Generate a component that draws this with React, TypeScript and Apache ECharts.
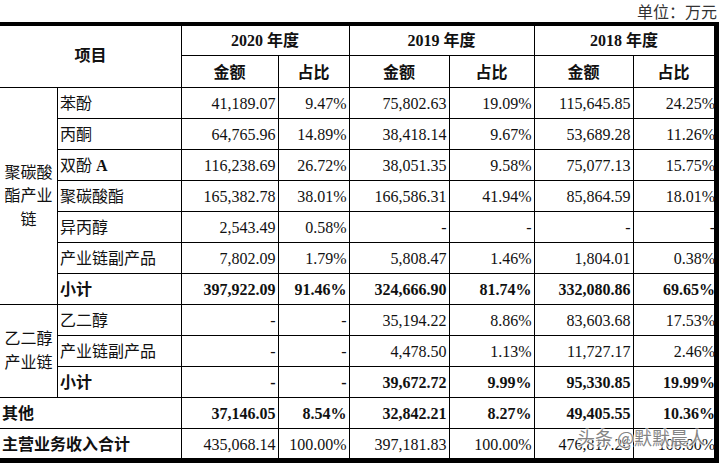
import React, { useEffect, useRef } from "react";
import * as echarts from "echarts";

const unitLabel = "单位：万元";
const headerItem = "项目";
const years = ["2020 年度", "2019 年度", "2018 年度"];
const subHeaders = ["金额", "占比"];

const rowLabels = [
  "苯酚",
  "丙酮",
  "双酚 A",
  "聚碳酸酯",
  "异丙醇",
  "产业链副产品",
  "小计",
  "乙二醇",
  "产业链副产品",
  "小计",
  "其他",
  "主营业务收入合计",
];

const groups = [
  { name: "聚碳酸\n酯产业\n链", from: 0, to: 6 },
  { name: "乙二醇\n产业链", from: 7, to: 9 },
];

const amt2020 = [41189.07, 64765.96, 116238.69, 165382.78, 2543.49, 7802.09, 397922.09, null, null, null, 37146.05, 435068.14];
const pct2020 = [9.47, 14.89, 26.72, 38.01, 0.58, 1.79, 91.46, null, null, null, 8.54, 100.0];
const amt2019 = [75802.63, 38418.14, 38051.35, 166586.31, null, 5808.47, 324666.9, 35194.22, 4478.5, 39672.72, 32842.21, 397181.83];
const pct2019 = [19.09, 9.67, 9.58, 41.94, null, 1.46, 81.74, 8.86, 1.13, 9.99, 8.27, 100.0];
const amt2018 = [115645.85, 53689.28, 75077.13, 85864.59, null, 1804.01, 332080.86, 83603.68, 11727.17, 95330.85, 49405.55, 476817.26];
const pct2018 = [24.25, 11.26, 15.75, 18.01, null, 0.38, 69.65, 17.53, 2.46, 19.99, 10.36, 100.0];

const boldValueRows = [6, 9, 10];
const boldLabelRows = [6, 9, 10, 11];
const fullWidthRows = [10, 11];
const watermark = "头条 @默默晨人";

const FONT = "'Liberation Serif', 'Times New Roman', 'Noto Sans CJK SC', serif";
const INK = "#111";

function fmtAmt(v: number | null) {
  if (v === null) return "-";
  return v.toLocaleString("en-US", { minimumFractionDigits: 2, maximumFractionDigits: 2 });
}
function fmtPct(v: number | null) {
  if (v === null) return "-";
  return v.toFixed(2) + "%";
}

function buildElements() {
  const els: any[] = [];
  const colX = [0, 57, 181, 278, 349, 449, 534, 633, 716];
  const top = 24;
  const headMid = 55;
  const headBot = 87;
  const rowH = 31;
  const nRows = rowLabels.length;
  const rowTop = (i: number) => headBot + i * rowH;
  const bottom = rowTop(nRows);
  const right = 714;

  const line = (x1: number, y1: number, x2: number, y2: number) =>
    els.push({
      type: "line",
      shape: { x1, y1, x2, y2 },
      style: { stroke: "#000", lineWidth: 1 },
      silent: true,
    });
  const text = (
    t: string,
    x: number,
    y: number,
    align: string,
    bold: boolean,
    size = 16,
    extra: any = {}
  ) =>
    els.push({
      type: "text",
      x,
      y,
      silent: true,
      style: {
        text: t,
        fill: INK,
        fontSize: size,
        fontFamily: FONT,
        fontWeight: bold ? "bold" : "normal",
        align,
        textAlign: align,
        verticalAlign: "middle",
        textVerticalAlign: "middle",
        ...extra,
      },
    });

  // background
  els.push({ type: "rect", shape: { x: 0, y: 0, width: 723, height: 463 }, style: { fill: "#fff" }, silent: true });

  // unit label
  text(unitLabel, 717, 12, "right", false, 16, { fill: "#333" });

  // horizontal lines
  line(colX[2], headMid + 0.5, right, headMid + 0.5);
  line(0, headBot + 0.5, right, headBot + 0.5);
  for (let i = 1; i <= nRows - 1; i++) {
    const y = Math.round(rowTop(i)) + 0.5;
    const inGroup = groups.some((g) => i > g.from && i <= g.to);
    line(inGroup ? colX[1] : 0, y, right, y);
  }
  // vertical lines
  line(colX[1] + 0.5, headBot, colX[1] + 0.5, rowTop(10));
  line(colX[2] + 0.5, top, colX[2] + 0.5, bottom);
  line(colX[4] + 0.5, top, colX[4] + 0.5, bottom);
  line(colX[6] + 0.5, top, colX[6] + 0.5, bottom);
  line(colX[3] + 0.5, headMid, colX[3] + 0.5, bottom);
  line(colX[5] + 0.5, headMid, colX[5] + 0.5, bottom);
  line(colX[7] + 0.5, headMid, colX[7] + 0.5, bottom);

  // thick borders
  els.push({ type: "rect", shape: { x: 0, y: 22, width: 719, height: 4 }, style: { fill: "#000" }, silent: true });
  els.push({ type: "rect", shape: { x: right, y: 22, width: 5, height: 441 }, style: { fill: "#000" }, silent: true });
  els.push({ type: "rect", shape: { x: 0, y: bottom - 1, width: 719, height: 6 }, style: { fill: "#000" }, silent: true });

  // header
  text(headerItem, (colX[0] + colX[2]) / 2, (top + headBot) / 2, "center", true);
  years.forEach((yr, k) => {
    const x0 = colX[2 + k * 2];
    const x1 = k === 2 ? right : colX[4 + k * 2];
    text(yr, (x0 + x1) / 2, (top + headMid) / 2 + 1, "center", true);
    const xm = colX[3 + k * 2];
    text(subHeaders[0], (x0 + xm) / 2, (headMid + headBot) / 2 + 1, "center", true);
    text(subHeaders[1], (xm + x1) / 2, (headMid + headBot) / 2 + 1, "center", true);
  });

  // groups
  groups.forEach((g) => {
    const yc = (rowTop(g.from) + rowTop(g.to + 1)) / 2;
    text(g.name, colX[1] / 2, yc, "center", false, 16, { lineHeight: 23.5 });
  });

  // rows
  const amts = [amt2020, amt2019, amt2018];
  const pcts = [pct2020, pct2019, pct2018];
  const rightEdges = [[275.5, 346.5], [446.5, 531.5], [630.5, 715]];
  for (let i = 0; i < nRows; i++) {
    const yc = rowTop(i) + rowH / 2 + 1;
    const lx = fullWidthRows.includes(i) ? 2 : colX[1] + 3;
    const lb = boldLabelRows.includes(i);
    if (rowLabels[i] === "双酚 A") {
      text("双酚 {a|A}", lx, yc, "left", lb, 16, {
        rich: { a: { fontWeight: "bold", fontSize: 16, fontFamily: FONT, fill: INK } },
      });
    } else {
      text(rowLabels[i], lx, yc, "left", lb);
    }
    const vb = boldValueRows.includes(i);
    for (let k = 0; k < 3; k++) {
      text(fmtAmt(amts[k][i]), rightEdges[k][0], yc, "right", vb);
      text(fmtPct(pcts[k][i]), rightEdges[k][1], yc, "right", vb);
    }
  }

  // watermark
  els.push({
    type: "text",
    x: 577,
    y: 437,
    silent: true,
    style: {
      text: watermark,
      fill: "rgba(110,110,110,0.85)",
      stroke: "rgba(255,255,255,0.7)",
      lineWidth: 2,
      fontSize: 18,
      fontFamily: "'Noto Sans CJK SC', sans-serif",
      align: "left",
      textAlign: "left",
      verticalAlign: "middle",
      textVerticalAlign: "middle",
    },
  });

  return els;
}

export default function App() {
  const ref = useRef<HTMLDivElement>(null);
  useEffect(() => {
    if (!ref.current) return;
    const chart = echarts.init(ref.current, null, { renderer: "svg" });
    chart.setOption({
      animation: false,
      backgroundColor: "#fff",
      graphic: { elements: buildElements() },
    });
    return () => chart.dispose();
  }, []);
  return (
    <div
      ref={ref}
      style={{ position: "fixed", left: 0, top: 0, width: 723, height: 463, background: "#fff" }}
    />
  );
}
